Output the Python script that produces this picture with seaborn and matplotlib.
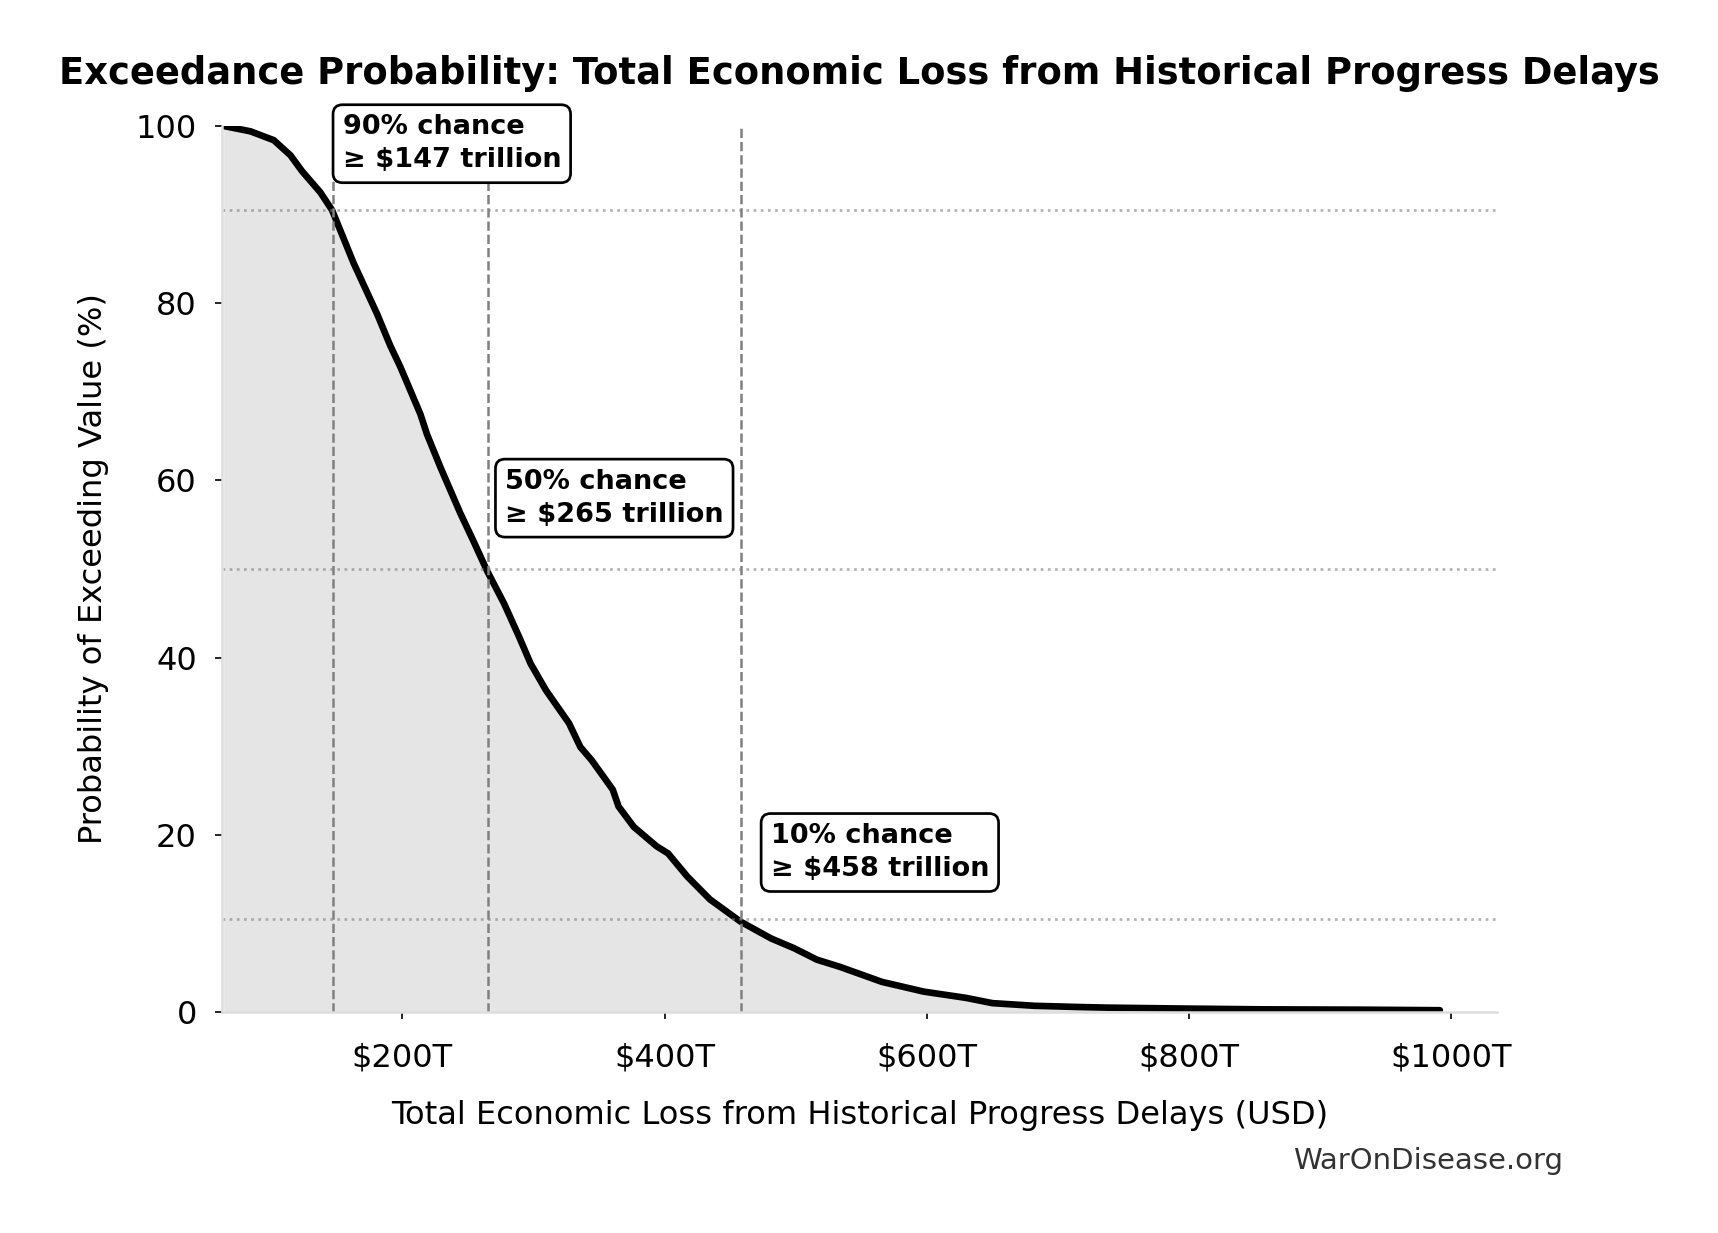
import numpy as np
import pandas as pd
from matplotlib import pyplot as plt
from matplotlib.ticker import FuncFormatter
import seaborn as sns

# exceedance curve (loss in $ trillions, % chance of exceeding)
loss_T = [63.7, 84.1, 101.9, 114.6, 123.5, 137.5, 146.4, 162.9, 180.7, 190.8,
          198.5, 213.7, 218.8, 229.0, 244.2, 254.4, 264.6, 277.6, 289.2, 297.9,
          309.6, 327.1, 335.8, 344.5, 360.5, 364.9, 376.5, 394.0, 402.7, 417.3,
          434.7, 458.0, 481.3, 498.8, 516.3, 533.7, 565.8, 597.7, 629.7, 650.1,
          682.1, 716.5, 738.4, 800.8, 855.3, 933.0, 991.4]
exceed_pct = [100.0, 99.4, 98.4, 96.7, 94.9, 92.5, 90.5, 84.5, 78.8, 75.2,
              72.8, 67.5, 65.2, 61.5, 56.3, 53.1, 49.8, 46.1, 42.3, 39.3,
              36.3, 32.6, 29.9, 28.4, 25.1, 23.2, 20.9, 18.7, 17.9, 15.3,
              12.7, 10.2, 8.3, 7.2, 5.9, 5.1, 3.4, 2.3, 1.6, 1.0,
              0.7, 0.56, 0.49, 0.38, 0.3, 0.26, 0.2]

# key percentiles
chance_pct = [90, 50, 10]
chance_loss = [147, 265, 458]
chance_line = [90.5, 50.0, 10.5]

x_ticks = [200, 400, 600, 800, 1000]
y_ticks = [0, 20, 40, 60, 80, 100]

df = pd.DataFrame({'loss': loss_T, 'pct': exceed_pct})

sns.set_style('ticks')
plt.rcParams['font.family'] = ['DejaVu Sans']
plt.rcParams['text.color'] = 'black'
plt.rcParams['axes.labelcolor'] = 'black'

fig = plt.figure(figsize=(1718/150, 1233/150), dpi=150)
ax = fig.add_axes([222/1718, 1-1012/1233, (1497-222)/1718, (1012-126)/1233])

ax.fill_between(df['loss'], df['pct'], 0, color='gray', alpha=0.2, linewidth=0)
sns.lineplot(data=df, x='loss', y='pct', color='black', linewidth=3.2, ax=ax)

for p, v, h in zip(chance_pct, chance_loss, chance_line):
    ax.axvline(v, color='gray', linestyle='--', linewidth=1.2)
    ax.axhline(h, color='gray', linestyle=':', linewidth=1.3, alpha=0.6)
    ax.text(v*1.05, p+8, f'{p}% chance\n≥ ${v} trillion', fontsize=13,
            fontweight='bold', ha='left', va='center', linespacing=1.35,
            clip_on=False,
            bbox=dict(boxstyle='round,pad=0.35', facecolor='white',
                      edgecolor='black', linewidth=1.3))

ax.set_xlim(df['loss'].min()*0.98, 1035)
ax.set_ylim(0, 100)
ax.set_xticks(x_ticks)
ax.set_yticks(y_ticks)
ax.xaxis.set_major_formatter(FuncFormatter(lambda x, pos: f'${x:.0f}T'))
ax.tick_params(labelsize=15.4, colors='black')
ax.tick_params(axis='x', pad=11)
ax.tick_params(axis='y', pad=8.5)

sns.despine(ax=ax)
for s in ['left', 'bottom']:
    ax.spines[s].set_color('#dddddd')
    ax.spines[s].set_linewidth(1.2)

ax.set_xlabel('Total Economic Loss from Historical Progress Delays (USD)', fontsize=15.4, labelpad=13)
ax.set_ylabel('Probability of Exceeding Value (%)', fontsize=15.4, labelpad=13)
fig.suptitle('Exceedance Probability: Total Economic Loss from Historical Progress Delays',
             fontsize=17.7, fontweight='bold', color='black', x=0.5, y=1-74/1233, va='center')
fig.text(1563/1718, 1-1161/1233, 'WarOnDisease.org', fontsize=14, color='#333333',
         ha='right', va='center')

fig.savefig('out.png', dpi=150)
